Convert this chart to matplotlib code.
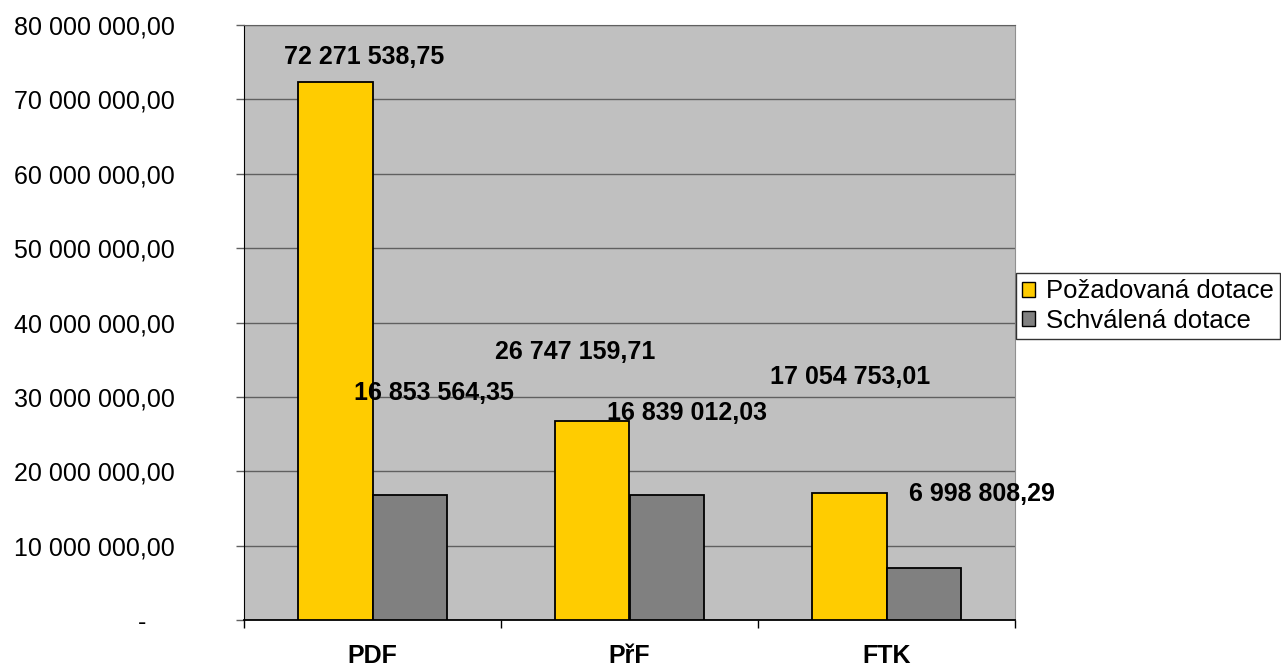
import matplotlib
matplotlib.use("Agg")
import matplotlib.pyplot as plt
from matplotlib.patches import Patch
from matplotlib.ticker import FuncFormatter, FixedLocator
import numpy as np

categories = ["PDF", "PřF", "FTK"]
requested = [72271538.75, 26747159.71, 17054753.01]
approved = [16853564.35, 16839012.03, 6998808.29]
series_names = ["Požadovaná dotace", "Schválená dotace"]

# label offsets in pixels (dx, dy) relative to bar top centre
req_offsets = [(29, 25), (-17, 69), (1, 116)]
app_offsets = [(24, 102), (20, 82), (58, 74)]

plt.rcParams['font.family'] = ['Liberation Sans', 'DejaVu Sans']

fig = plt.figure(figsize=(12.81, 6.70), dpi=100)
ax = fig.add_axes([244/1281, 1 - 620/670, (1015-244)/1281, (620-25)/670])
ax.set_facecolor('#C0C0C0')

x = np.arange(len(categories))
w = 0.288
b1 = ax.bar(x - w/2, requested, w, color='#FFCC00', edgecolor='black', linewidth=1.3, zorder=3)
b2 = ax.bar(x + w/2, approved, w, color='#808080', edgecolor='black', linewidth=1.3, zorder=3)

def fmt(v):
    s = f"{v:,.2f}"
    return s.replace(",", " ").replace(".", ",")

for i in range(len(categories)):
    for vals, offs in ((requested, req_offsets), (approved, app_offsets)):
        xc = x[i] - w/2 if vals is requested else x[i] + w/2
        ax.annotate(fmt(vals[i]), (xc, vals[i]), xytext=offs[i], textcoords='offset pixels',
                    ha='center', va='center', fontsize=18, fontweight='bold', zorder=5,
                    annotation_clip=False)

ax.set_xlim(-0.5, 2.5)
ax.set_ylim(0, 80000000)
ax.yaxis.set_major_locator(FixedLocator(np.arange(0, 80000001, 10000000)))

def yfmt(v, pos):
    if abs(v) < 1:
        return "-    "
    return fmt(v)
ax.yaxis.set_major_formatter(FuncFormatter(yfmt))
ax.grid(axis='y', color='#606060', linewidth=1, zorder=1)
ax.set_axisbelow(True)

ax.set_xticks(x)
ax.set_xticklabels(categories, fontsize=18, fontweight='bold')
ax.set_xticks([-0.5, 0.5, 1.5, 2.5], minor=True)
ax.tick_params(axis='x', which='major', length=0, pad=17)
ax.tick_params(axis='x', which='minor', length=6, width=1, color='black', direction='out')
ax.tick_params(axis='y', which='major', length=6, width=1, color='#606060', direction='out',
               labelsize=18, pad=44)

ax.spines['left'].set_color('black')
ax.spines['bottom'].set_color('black')
ax.spines['bottom'].set_linewidth(1.3)
ax.spines['top'].set_color('#606060')
ax.spines['right'].set_color('#909090')

handles = [Patch(facecolor='#FFCC00', edgecolor='black', label=series_names[0]),
           Patch(facecolor='#808080', edgecolor='black', label=series_names[1])]
leg = fig.legend(handles=handles, loc='center left', bbox_to_anchor=(1016/1281, 1 - 306/670),
                 fontsize=18.5, frameon=True, fancybox=False, edgecolor='black',
                 handlelength=0.5, handleheight=0.5, handletextpad=0.4,
                 borderpad=0.25, labelspacing=0.2, borderaxespad=0)
leg.get_frame().set_linewidth(1)

fig.savefig("out.png", dpi=100)
